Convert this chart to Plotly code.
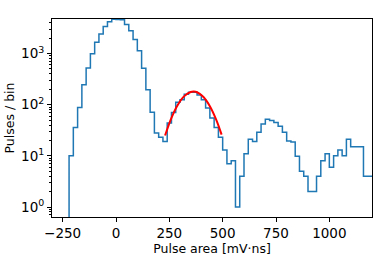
import plotly.graph_objects as go

# ---- data ----
bin_start = -220
bin_width = 20
counts = [10, 36, 88, 245, 520, 990, 1670, 2400, 3370, 4200,
          4700, 4650, 4550, 3680, 2800, 1880, 1130, 515, 197, 71,
          28, 23, 19, 44, 70, 112, 125, 160, 176, 176,
          155, 125, 86, 55, 36, 23, 13, 7, 8, 1,
          4, 11, 21, 19, 29, 42, 52, 49, 45, 38,
          29, 19.5, 18.6, 9.8, 5, 4, 2, 2, 4, 8,
          11, 6, 10, 13, 10, 21, 15, 15, 15, 4,
          4, 4]

fit_x = [230, 260, 290, 320, 350, 365, 380, 410, 440, 470, 495]
fit_y = [25, 55.5, 100, 147, 177.6, 181, 175.3, 141.5, 93.5, 50.6, 26]

x_ticks = [-250, 0, 250, 500, 750, 1000]
x_tick_text = ["\u2212250", "0", "250", "500", "750", "1000"]
y_ticks = [1, 10, 100, 1000]
y_tick_text = ["10<sup>0</sup>", "10<sup>1</sup>", "10<sup>2</sup>", "10<sup>3</sup>"]

# ---- build step outline ----
edges = [bin_start + i * bin_width for i in range(len(counts) + 1)]
step_x = [edges[0]] + edges[:-1] + [edges[-1]]
step_y = [0.01] + counts + [counts[-1]]

minor_vals = [m * 10 ** k for k in range(-1, 4) for m in range(2, 10)]

font = dict(family="DejaVu Sans", size=12.5, color="black")
tick_font = dict(family="DejaVu Sans", size=13.5, color="black")

fig = go.Figure()
fig.add_trace(go.Scatter(x=step_x, y=step_y, mode="lines", line_shape="hv",
                         line=dict(color="#1f77b4", width=1.5), showlegend=False,
                         hoverinfo="skip"))
fig.add_trace(go.Scatter(x=fit_x, y=fit_y, mode="lines", line_shape="spline",
                         line=dict(color="red", width=2), showlegend=False,
                         hoverinfo="skip"))

fig.update_layout(
    width=382, height=259,
    margin=dict(l=52, r=10, t=19, b=42),
    paper_bgcolor="white", plot_bgcolor="white",
    font=font,
)
fig.update_xaxes(
    range=[-300, 1200], showgrid=False, zeroline=False, automargin=False,
    showline=True, mirror=True, linecolor="black", linewidth=1,
    ticks="outside", ticklen=4, tickwidth=1, tickcolor="black",
    tickmode="array", tickvals=x_ticks, ticktext=x_tick_text,
    title=dict(text="Pulse area [mV\u00b7ns]", standoff=1, font=font),
    tickfont=tick_font,
)
fig.update_yaxes(
    type="log", range=[-0.195, 3.675], showgrid=False, zeroline=False, automargin=False,
    showline=True, mirror=True, linecolor="black", linewidth=1,
    ticks="outside", ticklen=4, tickwidth=1, tickcolor="black",
    tickmode="array", tickvals=y_ticks, ticktext=y_tick_text,
    minor=dict(tickmode="array", tickvals=minor_vals, ticks="outside",
               ticklen=2, tickwidth=0.8, tickcolor="black", showgrid=False),
    title=dict(text="Pulses / bin", standoff=3, font=font),
    tickfont=tick_font,
)

fig.write_html("out.html", config={"displayModeBar": False},
               post_script="document.body.style.margin='0px';document.body.style.padding='0px';")
